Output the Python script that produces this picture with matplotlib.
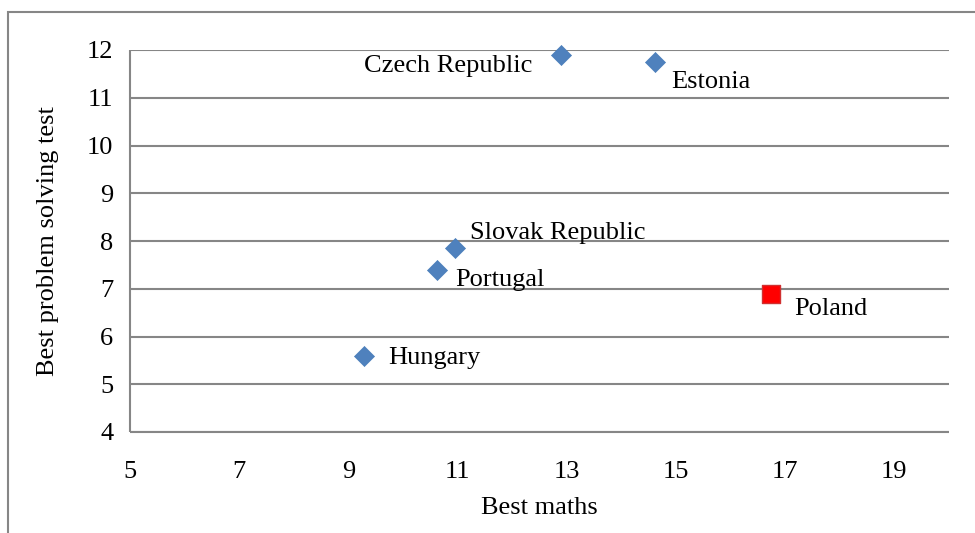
import matplotlib.pyplot as plt
from matplotlib.patches import Rectangle

# data
countries = ['Czech Republic', 'Estonia', 'Slovak Republic', 'Portugal', 'Hungary']
maths = [12.89, 14.61, 10.96, 10.63, 9.28]
problem = [11.90, 11.75, 7.85, 7.39, 5.59]
poland_maths = [16.74]
poland_problem = [6.89]

# label offsets in pixels (dx, dy) and horizontal alignment
offsets = {
    'Czech Republic': (-28, -11, 'right'),
    'Estonia': (17, -20, 'left'),
    'Slovak Republic': (15, 15, 'left'),
    'Portugal': (18, -10, 'left'),
    'Hungary': (25, -2, 'left'),
    'Poland': (23, -15, 'left'),
}

plt.rcParams['font.family'] = ['Liberation Serif', 'DejaVu Serif']
fs = 19
grey = '#868686'

fig = plt.figure(figsize=(9.75, 5.33), dpi=100)
W, H = 975, 533
ax = fig.add_axes([130 / W, (H - 432) / H, (949 - 130) / W, (432 - 50) / H])

# chart frame
fig.patches.append(Rectangle((8 / W, -0.1), 1.2, (H - 12) / H + 0.1,
                             transform=fig.transFigure, fill=False,
                             edgecolor=grey, linewidth=1.5))

ax.scatter(maths, problem, marker='D', s=10.2 ** 2, color='#4F81BD',
           edgecolors='#4A7EBB', linewidths=0.5, zorder=3, clip_on=False)
ax.scatter(poland_maths, poland_problem, marker='s', s=13.5 ** 2, color='#FF0000',
           edgecolors='#D03030', linewidths=1.0, zorder=3, clip_on=False)

for name, x, y in zip(countries + ['Poland'], maths + poland_maths,
                      problem + poland_problem):
    dx, dy, ha = offsets[name]
    ax.annotate(name, (x, y), xytext=(dx, dy), textcoords='offset pixels',
                ha=ha, va='center', fontsize=fs, color='black')

ax.set_xlim(5, 20)
ax.set_ylim(4, 12)
ax.set_xticks(range(5, 20, 2))
ax.set_yticks(range(4, 13))
ax.yaxis.grid(True, color=grey, linewidth=1.5)
ax.set_axisbelow(True)
ax.tick_params(length=0, labelsize=fs)
ax.tick_params(axis='x', pad=21)
ax.tick_params(axis='y', pad=12)

for side in ['top', 'right']:
    ax.spines[side].set_visible(False)
for side in ['left', 'bottom']:
    ax.spines[side].set_color(grey)
    ax.spines[side].set_linewidth(1.5)
    ax.spines[side].set_capstyle('butt')

ax.set_xlabel('Best maths', fontsize=fs, labelpad=10)
ax.set_ylabel('Best problem solving test', fontsize=fs, labelpad=20)

fig.savefig('out.png', dpi=100)
